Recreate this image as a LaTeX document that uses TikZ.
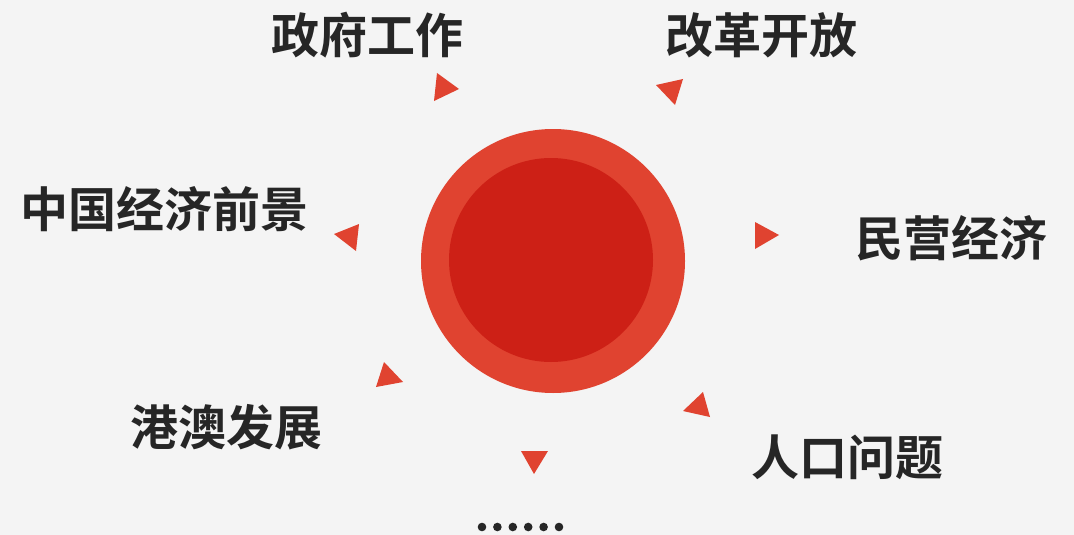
\documentclass[tikz,border=0pt]{standalone}
\usepackage{fontspec}
\setmainfont{Noto Sans CJK SC}[BoldFont={* Bold}]
\definecolor{bgcol}{HTML}{F4F4F4}
\definecolor{ringcol}{HTML}{E04330}
\definecolor{corecol}{HTML}{CD2016}
\definecolor{txtcol}{HTML}{262626}
\tikzset{
  topic/.style={text=txtcol, font=\fontsize{48}{52}\selectfont\bfseries, inner sep=0pt},
  pointer/.style={fill=ringcol},
  dot/.style={fill=txtcol}
}
\begin{document}
\begin{tikzpicture}[x=1pt, y=-1pt]
      \fill[bgcol] (0,0) rectangle (1074,535);
      \useasboundingbox (0,0) rectangle (1074,535);
      % center
      \fill[ringcol] (553,261) circle (132);
      \fill[corecol] (551,260) circle (102);
      % labels
      \draw
        (367,35) node[topic] (gov){政府工作}
        (761,35) node[topic] (reform){改革开放}
        (164,209) node[topic] (outlook){中国经济前景}
        (951,238) node[topic] (private){民营经济}
        (226,427) node[topic] (hkmo){港澳发展}
        (847,457) node[topic] (pop){人口问题};
      % pointers
      \begin{scope}[pointer]
        \fill (437,73) -- (459,89) -- (434,101) -- cycle;
        \fill (656,85) -- (683,79) -- (675,105) -- cycle;
        \fill (755,222) -- (779,235) -- (755,249) -- cycle;
        \fill (703,392) -- (710,417) -- (683,411) -- cycle;
        \fill (521,451) -- (548,451) -- (534,474) -- cycle;
        \fill (384,362) -- (403,382) -- (376,387) -- cycle;
        \fill (359,224) -- (356,251) -- (334,234) -- cycle;
      \end{scope}
      % more
      \foreach \i in {0,...,5}
        \fill[dot] (482+15.4*\i,527) circle (4.3);
    \end{tikzpicture}
\end{document}
